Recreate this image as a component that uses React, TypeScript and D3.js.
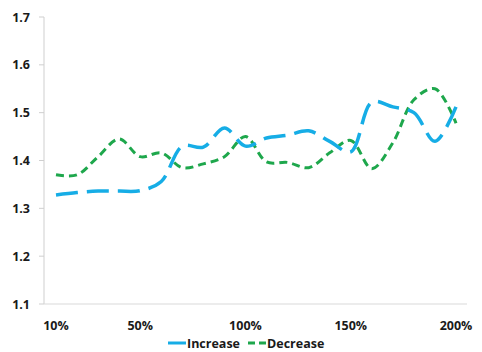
import React from "react";
import * as d3 from "d3";

const percents = [10, 20, 30, 40, 50, 60, 70, 80, 90, 100, 110, 120, 130, 140, 150, 160, 170, 180, 190, 200];
const increase = [1.328, 1.333, 1.336, 1.336, 1.337, 1.356, 1.43, 1.428, 1.468, 1.43, 1.447, 1.453, 1.462, 1.44, 1.418, 1.522, 1.512, 1.5, 1.44, 1.512];
const decrease = [1.37, 1.37, 1.408, 1.445, 1.408, 1.416, 1.385, 1.393, 1.408, 1.45, 1.397, 1.396, 1.385, 1.416, 1.442, 1.383, 1.437, 1.527, 1.55, 1.478];
const yTicks = [1.1, 1.2, 1.3, 1.4, 1.5, 1.6, 1.7];
const xTickValues = [10, 50, 100, 150, 200];
const seriesNames = ["Increase", "Decrease"];

const BLUE = "#16ade6";
const GREEN = "#1ea74c";
const FONT = "'Open Sans', sans-serif";
const TEXT = "#1a1a1a";

export default function App() {
  const x = d3.scaleLinear().domain([10, 200]).range([56, 456]);
  const y = d3.scaleLinear().domain([1.1, 1.7]).range([304, 17]);
  const line = d3
    .line<number>()
    .x((_, i) => x(percents[i]))
    .y((d) => y(d))
    .curve(d3.curveCatmullRom.alpha(0.5));

  return (
    <svg width={482} height={352} style={{ position: "absolute", left: 0, top: 0, background: "#fff" }}>
      <line x1={44} x2={44} y1={17} y2={304} stroke="#cfcfcf" strokeWidth={1} />
      <line x1={44} x2={467} y1={304} y2={304} stroke="#d9d9d9" strokeWidth={1} />
      {yTicks.map((t) => (
        <g key={t}>
          <line x1={39} x2={44} y1={y(t)} y2={y(t)} stroke="#cfcfcf" strokeWidth={1} />
          <text x={30} y={y(t) + 4.5} textAnchor="end" fontFamily={FONT} fontWeight={700} fontSize={12.5} fill={TEXT}>
            {t.toFixed(1)}
          </text>
        </g>
      ))}
      {xTickValues.map((p) => (
        <text key={p} x={x(p)} y={330} textAnchor="middle" fontFamily={FONT} fontWeight={700} fontSize={12.5} fill={TEXT}>
          {p}%
        </text>
      ))}
      <path d={line(decrease) || ""} fill="none" stroke={GREEN} strokeWidth={3} strokeDasharray="8 5" />
      <path d={line(increase) || ""} fill="none" stroke={BLUE} strokeWidth={3.5} strokeDasharray="22 9" />
      <line x1={168} x2={186} y1={343} y2={343} stroke={BLUE} strokeWidth={3} />
      <text x={187} y={348} fontFamily={FONT} fontWeight={700} fontSize={12.5} fill={TEXT}>
        {seriesNames[0]}
      </text>
      <line x1={248} x2={266} y1={343} y2={343} stroke={GREEN} strokeWidth={3} strokeDasharray="7 4" />
      <text x={267} y={348} fontFamily={FONT} fontWeight={700} fontSize={12.5} fill={TEXT}>
        {seriesNames[1]}
      </text>
    </svg>
  );
}
